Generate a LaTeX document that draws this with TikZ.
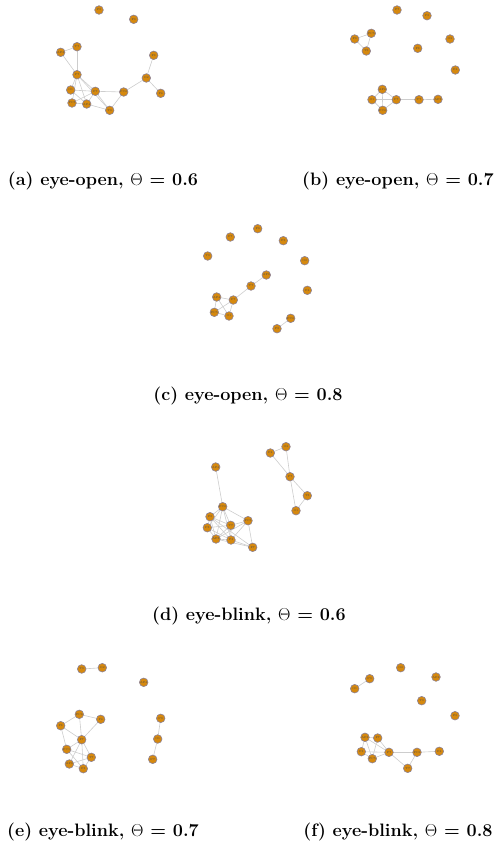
\documentclass[tikz,border=0pt]{standalone}
\usepackage{tikz}
\definecolor{nodeor}{RGB}{214,137,14}
\definecolor{nodeln}{RGB}{140,130,150}
\definecolor{edgec}{RGB}{205,205,205}
\tikzset{
  nd/.style={circle,fill=nodeor,draw=nodeln,line width=0.6pt,minimum size=8.6pt,inner sep=0pt,
    font=\fontsize{2.8}{3}\selectfont,text=black!70},
  ed/.style={draw=edgec,line width=0.6pt},
  captxt/.style={font=\fontsize{18}{21}\selectfont\bfseries,anchor=center}
}
\begin{document}
\begin{tikzpicture}[x=1pt,y=-1pt]
\useasboundingbox (0,0) rectangle (496,852);
% ---------- (a) ----------
\coordinate (A1) at (99,10);   \coordinate (A2) at (133.7,19.3);
\coordinate (A3) at (60.7,52.3); \coordinate (A4) at (77,46.7);
\coordinate (A5) at (153.7,55.3); \coordinate (A6) at (77,74.7);
\coordinate (A7) at (146.3,78); \coordinate (A8) at (160.7,93.3);
\coordinate (A9) at (70.7,90); \coordinate (A10) at (95.3,91.3);
\coordinate (A11) at (123.7,92); \coordinate (A12) at (72,103);
\coordinate (A13) at (86.7,104); \coordinate (A14) at (109.7,110.3);
\foreach \u/\v in {A3/A4,A4/A6,A3/A6,A6/A9,A6/A10,A6/A12,A6/A13,A6/A14,A9/A10,A9/A13,A12/A10,A12/A13,A13/A14,A10/A14,A10/A11,A11/A7,A7/A5,A7/A8,A11/A14,A13/A10}
  \draw[ed] (\u) -- (\v);
\node[nd] (a1) at (A1) {P8};
\node[nd] (a2) at (A2) {F3};
\node[nd] (a3) at (A3) {AF3};
\node[nd] (a4) at (A4) {T7};
\node[nd] (a5) at (A5) {F8};
\node[nd] (a6) at (A6) {P7};
\node[nd] (a7) at (A7) {O2};
\node[nd] (a8) at (A8) {F4};
\node[nd] (a9) at (A9) {O1};
\node[nd] (a10) at (A10) {F7};
\node[nd] (a11) at (A11) {FC6};
\node[nd] (a12) at (A12) {FC5};
\node[nd] (a13) at (A13) {AF4};
\node[nd] (a14) at (A14) {T8};
\node[captxt] (capa) at (103,181) {(a) eye-open, $\Theta$ = 0.6};
% ---------- (b) ----------
\coordinate (B1) at (397,10); \coordinate (B2) at (427,15.7);
\coordinate (B3) at (371.3,33.3); \coordinate (B4) at (354.7,39);
\coordinate (B5) at (366.3,51); \coordinate (B6) at (417.7,48.3);
\coordinate (B7) at (450,39); \coordinate (B8) at (455.3,70);
\coordinate (B9) at (382.3,89.3); \coordinate (B10) at (372,99.7);
\coordinate (B11) at (396.3,99.7); \coordinate (B12) at (419,99.7);
\coordinate (B13) at (438,99.3); \coordinate (B14) at (382.7,110.3);
\foreach \u/\v in {B3/B4,B4/B5,B3/B5,B9/B10,B9/B11,B9/B14,B10/B11,B10/B14,B11/B14,B11/B12,B12/B13}
  \draw[ed] (\u) -- (\v);
\node[nd] (b1) at (B1) {F7};
\node[nd] (b2) at (B2) {P8};
\node[nd] (b3) at (B3) {FC5};
\node[nd] (b4) at (B4) {F3};
\node[nd] (b5) at (B5) {T8};
\node[nd] (b6) at (B6) {F8};
\node[nd] (b7) at (B7) {O2};
\node[nd] (b8) at (B8) {F4};
\node[nd] (b9) at (B9) {AF4};
\node[nd] (b10) at (B10) {O1};
\node[nd] (b11) at (B11) {P7};
\node[nd] (b12) at (B12) {T7};
\node[nd] (b13) at (B13) {AF3};
\node[nd] (b14) at (B14) {FC6};
\node[captxt] (capb) at (398,181) {(b) eye-open, $\Theta$ = 0.7};
% ---------- (c) ----------
\coordinate (C1) at (257.7,228.7); \coordinate (C2) at (230.3,237);
\coordinate (C3) at (283.3,240.7); \coordinate (C4) at (207.7,256);
\coordinate (C5) at (304.7,260.7); \coordinate (C6) at (266.3,275);
\coordinate (C7) at (251,286); \coordinate (C8) at (307.3,290.3);
\coordinate (C9) at (216.7,297); \coordinate (C10) at (233.3,300);
\coordinate (C11) at (214.3,312.3); \coordinate (C12) at (229,316);
\coordinate (C13) at (290.7,318.3); \coordinate (C14) at (277,328.7);
\foreach \u/\v in {C6/C7,C7/C10,C9/C10,C9/C11,C9/C12,C10/C11,C10/C12,C11/C12,C13/C14}
  \draw[ed] (\u) -- (\v);
\node[nd] (c1) at (C1) {F3};
\node[nd] (c2) at (C2) {F7};
\node[nd] (c3) at (C3) {F8};
\node[nd] (c4) at (C4) {T8};
\node[nd] (c5) at (C5) {O2};
\node[nd] (c6) at (C6) {AF3};
\node[nd] (c7) at (C7) {T7};
\node[nd] (c8) at (C8) {F4};
\node[nd] (c9) at (C9) {AF4};
\node[nd] (c10) at (C10) {P7};
\node[nd] (c11) at (C11) {FC5};
\node[nd] (c12) at (C12) {O1};
\node[nd] (c13) at (C13) {FC6};
\node[nd] (c14) at (C14) {P8};
\node[captxt] (capc) at (248,396) {(c) eye-open, $\Theta$ = 0.8};
% ---------- (d) ----------
\coordinate (D1) at (286,446.7); \coordinate (D2) at (270.3,453);
\coordinate (D3) at (215.7,467); \coordinate (D4) at (290,476.7);
\coordinate (D5) at (307.3,495.7); \coordinate (D6) at (296,510.7);
\coordinate (D7) at (222.7,506.7); \coordinate (D8) at (210,516.7);
\coordinate (D9) at (248,520.7); \coordinate (D10) at (230.7,525.3);
\coordinate (D11) at (207.3,527.7); \coordinate (D12) at (231,540);
\coordinate (D13) at (216,539); \coordinate (D14) at (252.7,547.3);
\foreach \u/\v in {D1/D2,D2/D4,D1/D4,D4/D5,D4/D6,D5/D6,D3/D7,
  D7/D8,D7/D9,D7/D10,D7/D11,D7/D12,D7/D13,D8/D10,D8/D11,D8/D12,D8/D13,
  D9/D10,D9/D12,D9/D14,D9/D13,D10/D11,D10/D13,D10/D12,D11/D13,D11/D12,D12/D13,D12/D14,D13/D14,D8/D14}
  \draw[ed] (\u) -- (\v);
\node[nd] (d1) at (D1) {O2};
\node[nd] (d2) at (D2) {F4};
\node[nd] (d3) at (D3) {AF4};
\node[nd] (d4) at (D4) {P7};
\node[nd] (d5) at (D5) {T8};
\node[nd] (d6) at (D6) {O1};
\node[nd] (d7) at (D7) {FC6};
\node[nd] (d8) at (D8) {F8};
\node[nd] (d9) at (D9) {FC5};
\node[nd] (d10) at (D10) {T7};
\node[nd] (d11) at (D11) {P8};
\node[nd] (d12) at (D12) {F3};
\node[nd] (d13) at (D13) {AF3};
\node[nd] (d14) at (D14) {F7};
\node[captxt] (capd) at (249,616) {(d) eye-blink, $\Theta$ = 0.6};
% ---------- (e) ----------
\coordinate (E1) at (81.7,669); \coordinate (E2) at (102.3,667.7);
\coordinate (E3) at (143.7,682.3); \coordinate (E4) at (79.3,714.3);
\coordinate (E5) at (100.7,719.3); \coordinate (E6) at (60.7,725.7);
\coordinate (E7) at (160.7,718.3); \coordinate (E8) at (81.7,739.7);
\coordinate (E9) at (157.7,739); \coordinate (E10) at (66.7,749.3);
\coordinate (E11) at (91.3,757.3); \coordinate (E12) at (69.3,764);
\coordinate (E13) at (83.3,768.7); \coordinate (E14) at (152.7,759.3);
\foreach \u/\v in {E1/E2,E4/E5,E4/E6,E4/E8,E5/E8,E6/E8,E6/E10,E8/E10,E8/E11,E8/E12,E8/E13,
  E10/E11,E10/E13,E12/E11,E12/E13,E11/E13,E7/E9,E9/E14}
  \draw[ed] (\u) -- (\v);
\node[nd] (e1) at (E1) {T8};
\node[nd] (e2) at (E2) {O2};
\node[nd] (e3) at (E3) {AF4};
\node[nd] (e4) at (E4) {FC6};
\node[nd] (e5) at (E5) {F4};
\node[nd] (e6) at (E6) {F8};
\node[nd] (e7) at (E7) {P8};
\node[nd] (e8) at (E8) {F7};
\node[nd] (e9) at (E9) {O1};
\node[nd] (e10) at (E10) {FC5};
\node[nd] (e11) at (E11) {T7};
\node[nd] (e12) at (E12) {AF3};
\node[nd] (e13) at (E13) {F3};
\node[nd] (e14) at (E14) {P7};
\node[captxt] (cape) at (103,832) {(e) eye-blink, $\Theta$ = 0.7};
% ---------- (f) ----------
\coordinate (F1) at (400.7,667.7); \coordinate (F2) at (436,677);
\coordinate (F3) at (369.7,678.7); \coordinate (F4) at (354.7,688.7);
\coordinate (F5) at (421.7,700.7); \coordinate (F6) at (455,715.7);
\coordinate (F7) at (365,737.3); \coordinate (F8) at (377.7,738);
\coordinate (F9) at (361.3,751.7); \coordinate (F10) at (389,752.3);
\coordinate (F11) at (417,752.3); \coordinate (F12) at (439.3,751.3);
\coordinate (F13) at (372.3,758.7); \coordinate (F14) at (407.7,768.3);
\foreach \u/\v in {F3/F4,F7/F8,F7/F9,F7/F13,F7/F10,F8/F10,F8/F13,F9/F13,F9/F10,F13/F10,
  F10/F11,F10/F14,F11/F14,F11/F12}
  \draw[ed] (\u) -- (\v);
\node[nd] (f1) at (F1) {O2};
\node[nd] (f2) at (F2) {AF4};
\node[nd] (f3) at (F3) {P8};
\node[nd] (f4) at (F4) {O1};
\node[nd] (f5) at (F5) {T8};
\node[nd] (f6) at (F6) {F8};
\node[nd] (f7) at (F7) {AF3};
\node[nd] (f8) at (F8) {F7};
\node[nd] (f9) at (F9) {F3};
\node[nd] (f10) at (F10) {P7};
\node[nd] (f11) at (F11) {FC6};
\node[nd] (f12) at (F12) {F4};
\node[nd] (f13) at (F13) {FC5};
\node[nd] (f14) at (F14) {T7};
\node[captxt] (capf) at (398,832) {(f) eye-blink, $\Theta$ = 0.8};
\end{tikzpicture}
\end{document}
